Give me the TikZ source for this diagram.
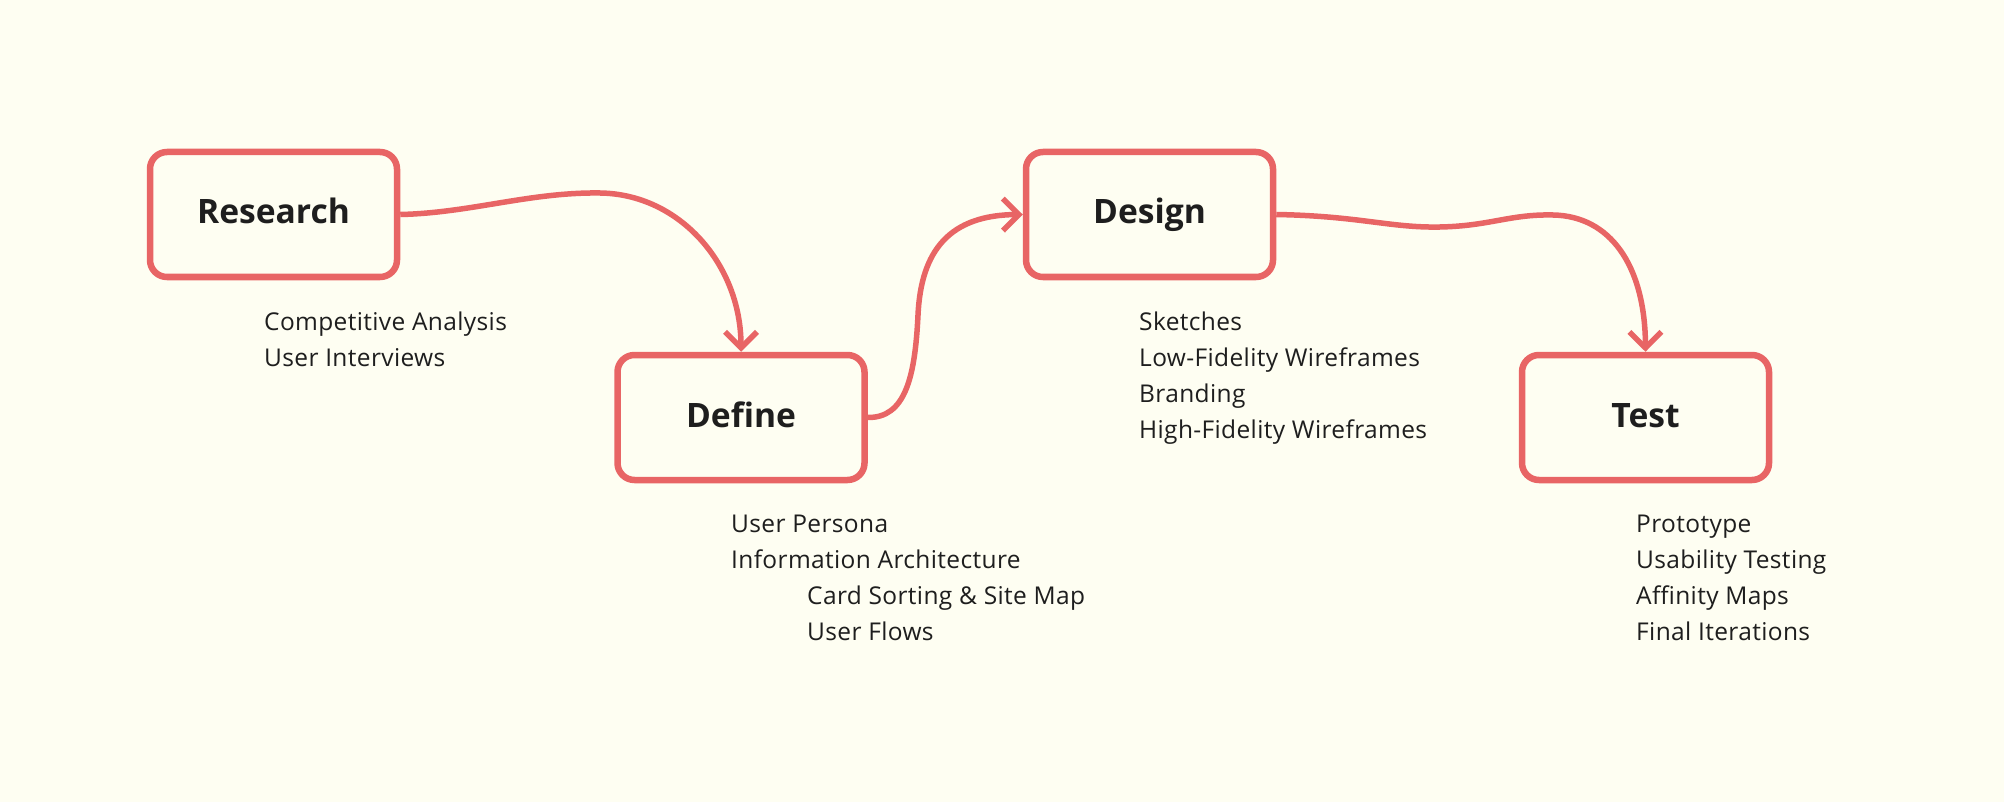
\documentclass[tikz,border=0pt]{standalone}
\usepackage{fontspec}
\setmainfont{Open Sans}
\newfontfamily\itemfont[LetterSpace=1.5]{Open Sans}
\usetikzlibrary{arrows.meta}
\definecolor{bg}{HTML}{FEFEF2}
\definecolor{accent}{HTML}{E86565}
\definecolor{ink}{HTML}{1E1E1E}
\begin{document}
\begin{tikzpicture}[x=1pt,y=-1pt,
  stage/.style={draw=accent, line width=6.5pt, rounded corners=17pt,
    minimum width=247pt, minimum height=125pt, inner sep=0pt,
    font=\fontsize{33.6}{40}\selectfont\bfseries, text=ink,
    text height=24pt, text depth=5pt},
  flow/.style={draw=accent, line width=5.5pt,
    -{Straight Barb[length=16pt,width=32pt]}},
  item/.style={anchor=base west, inner sep=0pt, text=ink,
    font=\itemfont\fontsize{24.5}{36}\selectfont}]
\fill[bg] (0,0) rectangle (2004,802);
\useasboundingbox (0,0) rectangle (2004,802);

\node[stage] (research) at (273.5,214.5) {Research};
\node[stage] (define)   at (741,417.5)   {Define};
\node[stage] (design)   at (1149.5,214.5) {Design};
\node[stage] (test)     at (1645.5,417.5) {Test};

\draw[flow] (research.east) .. controls (470,213) and (530,192) .. (600,193)
  .. controls (680,194) and (741,265) .. (define.north);
\draw[flow] (define.east) .. controls (905,418) and (915,378) .. (918,315)
  .. controls (921,250) and (950,215) .. (design.west);
\draw[flow] (design.east) .. controls (1360,216) and (1390,228) .. (1440,227)
  .. controls (1490,226) and (1510,214) .. (1553,215)
  .. controls (1610,216) and (1645,265) .. (test.north);

\node[item] (r1) at (264,330) {Competitive Analysis};
\node[item] (r2) at (264,366) {User Interviews};

\node[item] (f1) at (731,532) {User Persona};
\node[item] (f2) at (731,568) {Information Architecture};
\node[item] (f3) at (807,604) {Card Sorting \& Site Map};
\node[item] (f4) at (807,640) {User Flows};

\node[item] (d1) at (1139,330) {Sketches};
\node[item] (d2) at (1139,366) {Low-Fidelity Wireframes};
\node[item] (d3) at (1139,402) {Branding};
\node[item] (d4) at (1139,438) {High-Fidelity Wireframes};

\node[item] (t1) at (1636,532) {Prototype};
\node[item] (t2) at (1636,568) {Usability Testing};
\node[item] (t3) at (1636,604) {Affinity Maps};
\node[item] (t4) at (1636,640) {Final Iterations};
\end{tikzpicture}
\end{document}
